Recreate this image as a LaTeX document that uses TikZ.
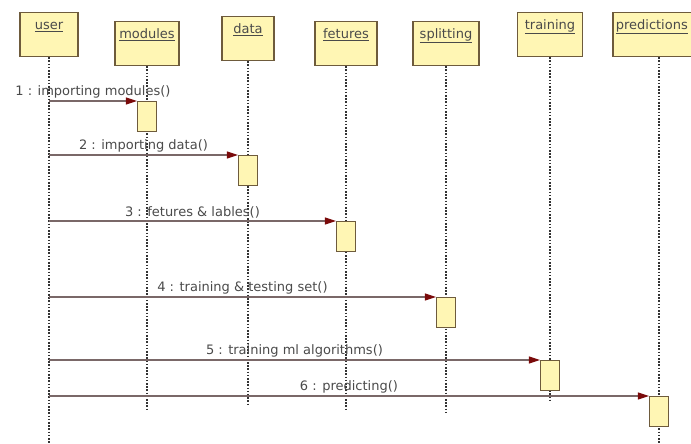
\documentclass[tikz,border=0pt]{standalone}
\usepackage{fontspec}
\setmainfont{DejaVu Sans}
\usetikzlibrary{arrows.meta}
\definecolor{boxfill}{HTML}{FFF6B4}
\definecolor{boxline}{HTML}{6E5B3C}
\definecolor{lifecol}{HTML}{333333}
\definecolor{msgline}{HTML}{7A6868}
\definecolor{arrowred}{HTML}{7A0A0A}
\definecolor{textgray}{HTML}{4A4A4A}
\tikzset{>=stealth,
  headtext/.style={anchor=north, yshift=-5pt, inner sep=2pt, text height=10pt, text depth=3pt,
    font=\fontsize{13}{15}\selectfont, text=textgray},
  lifehead/.style={draw=boxline, fill=boxfill, line width=1.2pt, anchor=north,
    minimum height=44pt, inner sep=0pt,
    label={[headtext]north:\underline{#1}}},
  act/.style={draw=boxline, fill=boxfill, line width=1.2pt, anchor=north,
    minimum width=19pt, minimum height=30pt, inner sep=0pt},
  life/.style={draw=lifecol, line width=1.1pt, dash pattern=on 1.6pt off 1.6pt},
  msg/.style={draw=msgline, line width=1.1pt, -{Triangle[length=11pt,width=7pt,color=arrowred]}},
  msgtext/.style={above, inner sep=2pt, font=\fontsize{13}{15}\selectfont, text=textgray}
}

\begin{document}
\begin{tikzpicture}[x=1pt,y=-1pt]
\clip (0,0) rectangle (691,444);
% lifeline heads
\node[lifehead=user, minimum width=58pt] (user) at (49,12) {};
\node[lifehead=modules, minimum width=64pt] (modules) at (147,21) {};
\node[lifehead=data, minimum width=52pt] (data) at (248,16) {};
\node[lifehead=fetures, minimum width=62pt] (fetures) at (346,21) {};
\node[lifehead=splitting, minimum width=66pt] (splitting) at (446,21) {};
\node[lifehead=training, minimum width=65pt] (training) at (550,12) {};
\node[lifehead=, minimum width=92pt] (predictions) at (659,12) {};
\node[headtext, anchor=north east, xshift=-1pt] at (predictions.north -| 691,0) {\underline{predictions}};

\foreach \n/\e in {user/444,modules/410,data/405,fetures/410,splitting/412,training/402,predictions/444}
  \draw[life] (\n.south) -- (\n.south |- 0,\e);

% activations
\node[act] (a1) at (modules.south |- 0,101) {};
\node[act] (a2) at (data.south |- 0,155) {};
\node[act] (a3) at (fetures.south |- 0,221) {};
\node[act] (a4) at (splitting.south |- 0,297) {};
\node[act] (a5) at (training.south |- 0,360) {};
\node[act] (a6) at (predictions.south |- 0,396) {};

% messages
\draw[msg] (user.south |- a1.north west) -- node[msgtext] {1 : importing modules()} (a1.north west);
\draw[msg] (user.south |- a2.north west) -- node[msgtext] {2 : importing data()} (a2.north west);
\draw[msg] (user.south |- a3.north west) -- node[msgtext] {3 : fetures \& lables()} (a3.north west);
\draw[msg] (user.south |- a4.north west) -- node[msgtext] {4 : training \& testing set()} (a4.north west);
\draw[msg] (user.south |- a5.north west) -- node[msgtext] {5 : training ml algorithms()} (a5.north west);
\draw[msg] (user.south |- a6.north west) -- node[msgtext] {6 : predicting()} (a6.north west);
\end{tikzpicture}
\end{document}
